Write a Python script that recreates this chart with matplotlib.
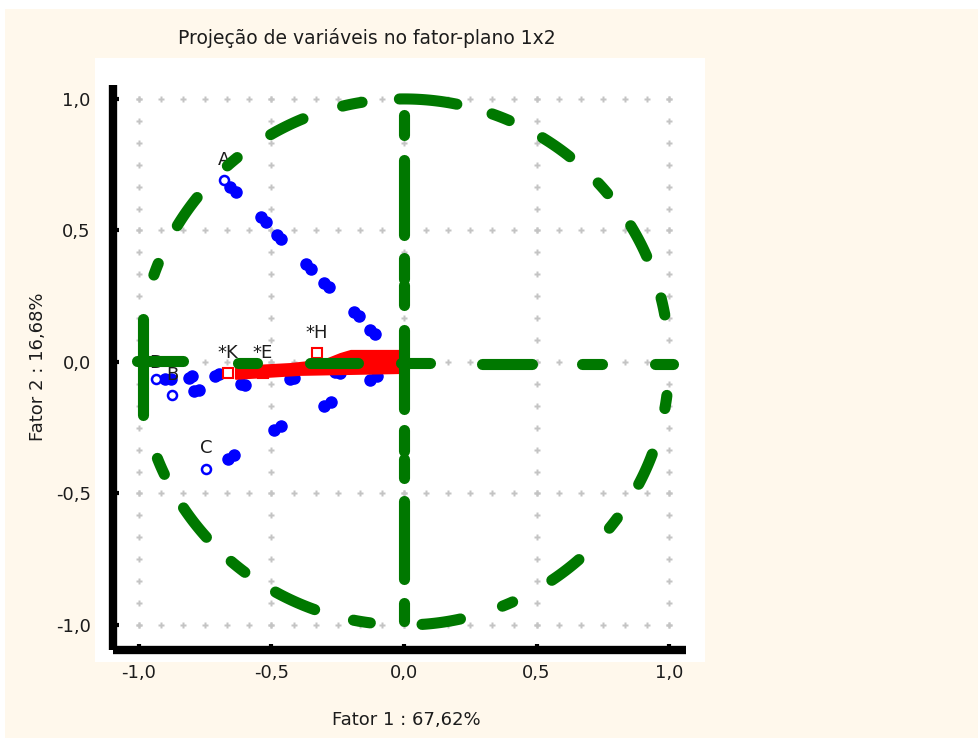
import numpy as np
import matplotlib
matplotlib.use("Agg")
import matplotlib.pyplot as plt
from matplotlib.patches import Rectangle, Polygon
from matplotlib.ticker import MultipleLocator, FuncFormatter

plt.rcParams['font.family'] = ['DejaVu Sans']
plt.rcParams['axes.unicode_minus'] = False

# active variables (open circles)
act_names = ["A", "D", "B", "C"]
act_x = [-0.679, -0.936, -0.875, -0.747]
act_y = [0.692, -0.064, -0.125, -0.405]

# supplementary variables (open squares)
sup_names = ["*K", "*E", "*H"]
sup_x = [-0.664, -0.532, -0.328]
sup_y = [-0.042, -0.042, 0.034]

# cases projected on the plane (filled dots)
pts_x = [-0.657, -0.634, -0.540, -0.521, -0.479, -0.464, -0.370, -0.351,
         -0.302, -0.283, -0.189, -0.170, -0.128, -0.109,
         -0.664, -0.642, -0.491, -0.464, -0.302, -0.275, -0.128, -0.102,
         -0.902, -0.879, -0.811, -0.800, -0.792, -0.774, -0.713, -0.698,
         -0.615, -0.600, -0.430, -0.415, -0.260, -0.242]
pts_y = [0.665, 0.646, 0.552, 0.533, 0.484, 0.469, 0.371, 0.355,
         0.302, 0.284, 0.189, 0.174, 0.121, 0.106,
         -0.367, -0.352, -0.257, -0.242, -0.166, -0.151, -0.068, -0.053,
         -0.064, -0.064, -0.060, -0.053, -0.110, -0.106, -0.053, -0.045,
         -0.083, -0.087, -0.064, -0.060, -0.038, -0.042]

# hand-drawn green marks: circle pieces (degrees) and axis pieces
circle_arcs = [(91, 78.5), (70.6, 66.6), (58.5, 51.3), (42.9, 39.8), (31.2, 23.7),
               (14.1, 10.3), (-7.3, -10.2), (-20.5, -27.7), (-36.4, -39.2),
               (-48.7, -56.1), (-65.8, -68.2), (-77.7, -86.1), (-97.3, -101),
               (-109.7, -119), (-126.9, -130.7), (-138.2, -146.3), (-154.7, -158.5),
               (158, 160.7), (141.3, 148.8), (129, 131.8), (112.4, 120.2), (99.1, 103.4)]
vert_pieces = [(0.938, 0.862), (0.767, 0.484), (0.397, 0.314), (0.291, 0.216),
               (0.121, -0.178), (-0.257, -0.340), (-0.367, -0.442),
               (-0.529, -0.824), (-0.915, -0.983)]
horiz_pieces = [(-1.008, -0.834), (-0.626, -0.555), (-0.355, -0.174), (-0.01, 0.098),
                (0.294, 0.483), (0.672, 0.747), (0.947, 1.015)]
horiz_level = [0.004, -0.004, -0.004, -0.004, -0.006, -0.006, -0.006]
left_bar = (-0.985, 0.162, -0.200)

# red hand-drawn band towards the origin
band_x = [-0.634, -0.634, -0.392, -0.015, -0.015, -0.200, -0.240, -0.300, -0.430]
band_y = [-0.019, -0.064, -0.049, -0.042, 0.042, 0.042, 0.030, 0.006, -0.008]

green = '#007800'
txt = '#1c1c1c'
fs = 13

fig = plt.figure(figsize=(9.79, 7.38), dpi=100)
fig.patch.set_facecolor('#fff8ec')
# white strips and the white panel behind the plot
for x0, y0, w, h in [(0, 729, 979, 9), (0, 0, 5, 738), (95, 76, 610, 604)]:
    fig.patches.append(Rectangle((x0 / 979, y0 / 738), w / 979, h / 738,
                                 transform=fig.transFigure, facecolor='white',
                                 edgecolor='none', zorder=-5))

ax = fig.add_axes([113 / 979, 1 - 650 / 738, 573 / 979, 565 / 738])
ax.set_zorder(2)
ax.set_facecolor('white')
ax.set_xlim(-1.098, 1.064)
ax.set_ylim(-1.095, 1.053)

for s in ['top', 'right']:
    ax.spines[s].set_visible(False)
for s in ['left', 'bottom']:
    ax.spines[s].set_linewidth(6)
    ax.spines[s].set_color('black')
    ax.spines[s].set_capstyle('butt')

ax.xaxis.set_major_locator(MultipleLocator(0.5))
ax.yaxis.set_major_locator(MultipleLocator(0.5))
ax.yaxis.set_minor_locator(MultipleLocator(1 / 12))
fmt = FuncFormatter(lambda v, _: f"{v:.1f}".replace('.', ','))
ax.xaxis.set_major_formatter(fmt)
ax.yaxis.set_major_formatter(fmt)
ax.tick_params(axis='both', which='major', direction='in', length=4, width=3,
               labelsize=fs, labelcolor=txt, colors='black')
ax.tick_params(axis='y', which='minor', direction='in', length=3, width=3, color='black')
ax.tick_params(axis='x', pad=10)
ax.tick_params(axis='y', pad=16)

# dotted grid made of small plus marks
dots = np.arange(-1.0, 1.07, 1 / 12)
for g in [-1.0, -0.5, 0.0, 0.5, 1.0]:
    ax.plot(dots, np.full_like(dots, g), ls='none', marker='P', ms=5,
            color='#c4c4c4', mec='none', zorder=1)
    gy = dots[dots <= 1.001]
    ax.plot(np.full_like(gy, g), gy, ls='none', marker='P', ms=5,
            color='#c4c4c4', mec='none', zorder=1)

ax.plot(pts_x, pts_y, ls='none', marker='o', ms=8, color='#0000ff', mec='#0000ff',
        zorder=3)
ax.plot(act_x, act_y, ls='none', marker='o', ms=6.5, mfc='white', mec='#0000ff',
        mew=1.8, zorder=3)
ax.plot(sup_x, sup_y, ls='none', marker='s', ms=7, mfc='white', mec='#ff0000',
        mew=1.5, zorder=3)

# point labels sit above their marks; the D label is mostly hidden under the green stroke
offsets = [8, 5, 8, 8, 8, 8, 8]
for name, x, y, dy in zip(act_names + sup_names, act_x + sup_x, act_y + sup_y, offsets):
    ax.annotate(name, (x, y), xytext=(0, dy), textcoords='offset points',
                ha='center', va='bottom', fontsize=fs, color=txt, zorder=3.5)

ax.add_patch(Polygon(np.column_stack([band_x, band_y]), closed=True,
                     facecolor='#ff0000', edgecolor='#ff0000', lw=1.5,
                     joinstyle='round', zorder=4))

lw_g = 8
for a0, a1 in circle_arcs:
    t = np.radians(np.linspace(a0, a1, 30))
    ax.plot(np.cos(t), np.sin(t), color=green, lw=lw_g, solid_capstyle='round', zorder=5)
for y0, y1 in vert_pieces:
    ax.plot([0, 0], [y0, y1], color=green, lw=lw_g, solid_capstyle='round', zorder=5)
for (x0, x1), hy in zip(horiz_pieces, horiz_level):
    ax.plot([x0, x1], [hy, hy], color=green, lw=lw_g, solid_capstyle='round', zorder=5)
ax.plot([left_bar[0], left_bar[0]], [left_bar[1], left_bar[2]], color=green, lw=lw_g,
        solid_capstyle='round', zorder=5)

fig.text(367 / 979, 1 - 38 / 738, "Projeção de variáveis no fator-plano 1x2",
         ha='center', va='center', fontsize=13.5, color=txt)
fig.text(406 / 979, 1 - 720 / 738, "Fator 1 : 67,62%", ha='center', va='center',
         fontsize=fs, color=txt)
fig.text(38 / 979, 1 - 367 / 738, "Fator 2 : 16,68%", ha='center', va='center',
         rotation=90, fontsize=fs, color=txt)

fig.savefig('out.png', dpi=100, facecolor=fig.get_facecolor())
